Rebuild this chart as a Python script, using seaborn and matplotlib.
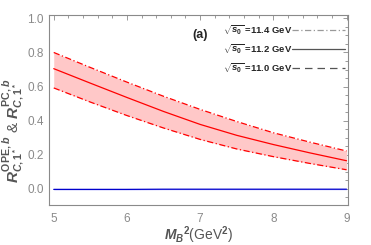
import pandas as pd
import matplotlib
matplotlib.use("Agg")
import matplotlib.pyplot as plt
import seaborn as sns
from matplotlib.lines import Line2D
from matplotlib.ticker import MultipleLocator

# ==========================================================
# DATA
# ==========================================================

mb2 = [5.0, 5.5, 6.0, 6.5, 7.0, 7.5, 8.0, 8.5, 9.0]

ope_s114 = [0.800, 0.712, 0.626, 0.543, 0.466, 0.395, 0.329, 0.274, 0.222]
ope_s112 = [0.705, 0.620, 0.536, 0.454, 0.378, 0.314, 0.260, 0.211, 0.165]
ope_s110 = [0.592, 0.509, 0.430, 0.357, 0.290, 0.234, 0.189, 0.149, 0.112]

pc_s114 = [0.002, 0.002, 0.002, 0.002, 0.002, 0.002, 0.002, 0.002, 0.002]
pc_s112 = [-0.003, -0.003, -0.003, -0.002, -0.002, -0.002, -0.002, -0.002, -0.002]
pc_s110 = [-0.006, -0.006, -0.006, -0.005, -0.005, -0.005, -0.005, -0.005, -0.005]

legend_labels = [r"$\sqrt{s_0}$ =11.4 GeV", r"$\sqrt{s_0}$ =11.2 GeV", r"$\sqrt{s_0}$ =11.0 GeV"]

df = pd.DataFrame({"mb2": mb2, "up": ope_s114, "mid": ope_s112, "lo": ope_s110,
                   "pc_up": pc_s114, "pc_mid": pc_s112, "pc_lo": pc_s110})

# ==========================================================
# PLOT
# ==========================================================

sns.set_style("white")
plt.rcParams["font.family"] = ["Liberation Sans", "DejaVu Sans"]
plt.rcParams["mathtext.fontset"] = "custom"
plt.rcParams["mathtext.rm"] = "Liberation Sans:bold"
plt.rcParams["mathtext.it"] = "Liberation Sans:bold:italic"
plt.rcParams["mathtext.bf"] = "Liberation Sans:bold"

grey = "#8a8a8a"

fig = plt.figure(figsize=(3.71, 2.45), dpi=100)
ax = fig.add_axes([0.133, 0.163, 0.805, 0.776])

# OPE band (red)
ax.fill_between(df["mb2"], df["lo"], df["up"], color="#ffc8c8", lw=0)
sns.lineplot(data=df, x="mb2", y="up", ax=ax, color="red", lw=0.9, ls=(0, (5, 2, 1, 2)))
sns.lineplot(data=df, x="mb2", y="mid", ax=ax, color="red", lw=0.9)
sns.lineplot(data=df, x="mb2", y="lo", ax=ax, color="red", lw=0.9, ls=(0, (5, 2, 1, 2)))

# PC band (blue, ~0)
ax.fill_between(df["mb2"], df["pc_lo"], df["pc_up"], color="#b8b8ff", lw=0)
sns.lineplot(data=df, x="mb2", y="pc_mid", ax=ax, color="#0000cc", lw=0.9)

ax.set_xlim(4.94, 9.02)
ax.xaxis.set_major_locator(MultipleLocator(1))
ax.xaxis.set_minor_locator(MultipleLocator(0.2))
ax.yaxis.set_major_locator(MultipleLocator(0.2))
ax.yaxis.set_minor_locator(MultipleLocator(0.05))
ax.set_yticks(ax.get_yticks())
ax.set_yticklabels([f"{v:.1f}" for v in ax.get_yticks()])
ax.set_ylim(-0.095, 1.02)

ax.tick_params(which="both", direction="in", top=True, right=True, colors=grey,
               labelcolor=grey, labelsize=8.5, width=0.6, pad=4)
ax.tick_params(which="major", length=3.5)
ax.tick_params(which="minor", length=2)
ax.tick_params(axis="x", pad=6)
for s in ax.spines.values():
    s.set_color(grey)
    s.set_linewidth(0.8)

ax.set_xlabel(r"$M_B{}^2$(GeV$^2$)", fontsize=10, color="#555555")
ax.xaxis.set_label_coords(0.5, -0.1)
ax.set_ylabel(r"$R^{\mathrm{OPE},b}_{C,1^*}$ & $R^{\mathrm{PC},b}_{C,1^*}$", fontsize=11, color="#555555")
ax.yaxis.set_label_coords(-0.075, 0.39)

ax.text(7.0, 0.905, "(a)", fontsize=9, fontweight="bold", ha="center", va="center")

handles = [Line2D([], [], color="#999999", lw=0.9, ls=(0, (5, 2, 1, 2))),
           Line2D([], [], color="#555555", lw=0.9),
           Line2D([], [], color="#555555", lw=0.9, ls=(0, (6, 4)))]
leg = ax.legend(handles, legend_labels, loc="upper right", bbox_to_anchor=(0.99, 0.955),
                frameon=False, fontsize=6.8, markerfirst=False, handlelength=5.6,
                handletextpad=0.0, labelspacing=0.55, borderaxespad=0, borderpad=0)
for t in leg.get_texts():
    t.set_fontweight("bold")

plt.savefig("out.png", dpi=100)
plt.close()
